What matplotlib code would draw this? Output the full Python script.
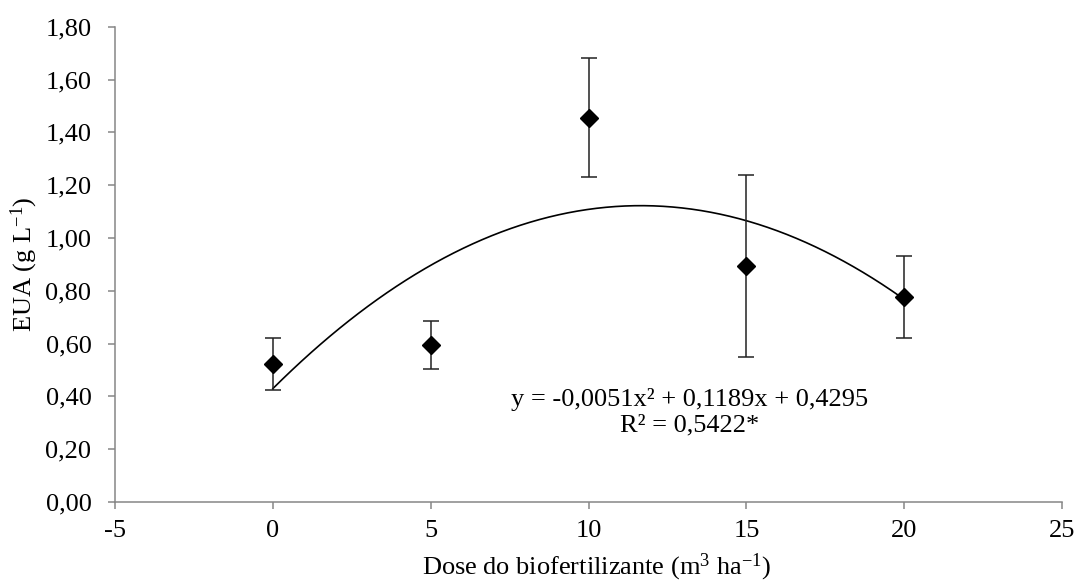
import numpy as np
import matplotlib
matplotlib.use("Agg")
import matplotlib.pyplot as plt
from matplotlib.ticker import FuncFormatter, MultipleLocator

# dados
doses = [0, 5, 10, 15, 20]
eua = [0.523, 0.595, 1.456, 0.894, 0.775]
erro = [0.097, 0.091, 0.226, 0.345, 0.155]

# coeficientes da regressão quadrática
coef = [-0.0051, 0.1189, 0.4295]
eq_txt = "y = -0,0051x² + 0,1189x + 0,4295"
r2_txt = "R² = 0,5422*"

plt.rcParams["font.family"] = ["Liberation Serif", "DejaVu Serif"]
plt.rcParams["mathtext.fontset"] = "custom"
plt.rcParams["mathtext.rm"] = "Liberation Serif"
plt.rcParams["mathtext.it"] = "Liberation Serif:italic"

AX_GRAY = "#868686"
FS = 19

fig = plt.figure(figsize=(10.78, 5.83), dpi=100)
ax = fig.add_axes([0.1067, 0.139, 0.8785, 0.815])

# curva ajustada
xs = np.linspace(min(doses), max(doses), 200)
ax.plot(xs, np.polyval(coef, xs), color="black", lw=1.2, zorder=2)

# médias + barras de erro
ax.errorbar(doses, eua, yerr=erro, fmt="D", color="black", ms=9.5,
            ecolor="#222222", elinewidth=1.1, capsize=6, capthick=1.1,
            zorder=3)

ax.text(13.2, 0.39, eq_txt, ha="center", va="center", fontsize=FS)
ax.text(13.2, 0.29, r2_txt, ha="center", va="center", fontsize=FS)

ax.set_xlim(-5, 25)
ax.set_ylim(0, 1.8)
ax.xaxis.set_major_locator(MultipleLocator(5))
ax.yaxis.set_major_locator(MultipleLocator(0.2))
ax.yaxis.set_major_formatter(FuncFormatter(lambda v, p: f"{v:.2f}".replace(".", ",")))
ax.xaxis.set_major_formatter(FuncFormatter(lambda v, p: f"{v:.0f}"))

for s in ("top", "right"):
    ax.spines[s].set_visible(False)
for s in ("left", "bottom"):
    ax.spines[s].set_color(AX_GRAY)
    ax.spines[s].set_linewidth(1.1)

ax.tick_params(axis="both", direction="out", length=5, width=1.1,
               color=AX_GRAY, labelsize=FS, labelcolor="black")
ax.tick_params(axis="x", pad=8)
ax.tick_params(axis="y", pad=12)

ax.set_xlabel("Dose do biofertilizante (m$^{3}$ ha$^{-1}$)", fontsize=FS, labelpad=7)
ax.xaxis.label.set_x(0.509)
ax.set_ylabel("EUA (g L$^{-1}$)", fontsize=FS, labelpad=4)

fig.savefig("out.png", dpi=100)
plt.close(fig)
